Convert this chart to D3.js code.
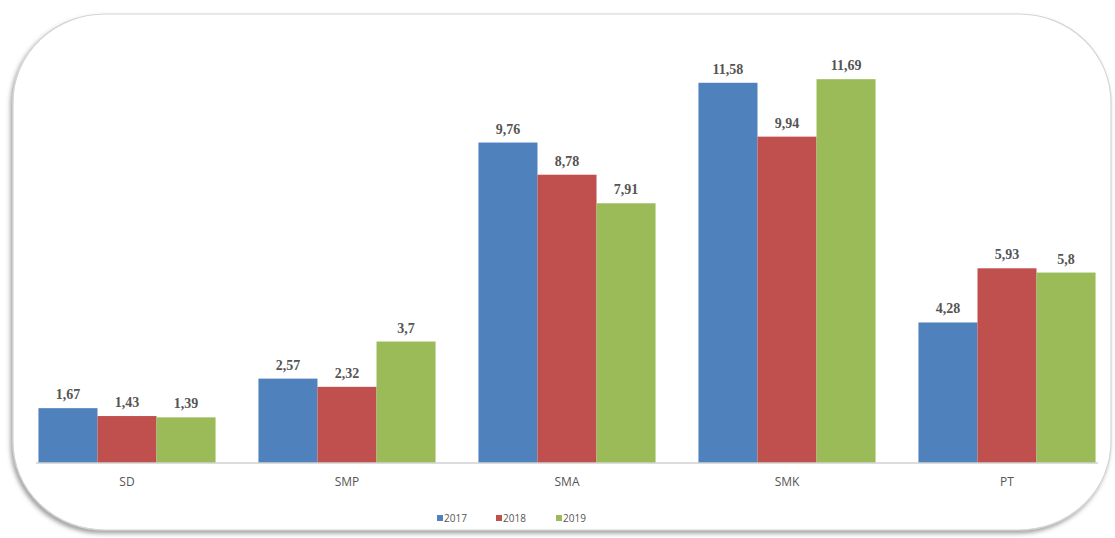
<!DOCTYPE html>
<html>
<head>
<meta charset="utf-8">
<script src="https://cdn.jsdelivr.net/npm/d3@7"></script>
<style>
  body { margin: 0; background: #fff; }
  svg { display: block; }
</style>
</head>
<body>
<svg id="chart"></svg>
<script>
const categories = ["SD", "SMP", "SMA", "SMK", "PT"]
const years = ["2017", "2018", "2019"]
const values2017 = [1.67, 2.57, 9.76, 11.58, 4.28]
const values2018 = [1.43, 2.32, 8.78, 9.94, 5.93]
const values2019 = [1.39, 3.7, 7.91, 11.69, 5.8]
const colors = ["#4f81bd", "#c0504d", "#9bbb59"]

const series = [values2017, values2018, values2019]
const data = categories.map((c, i) => ({
    cat: c,
    vals: years.map((y, j) => ({ year: y, v: series[j][i], j: j }))
}))

const w = 1115
const h = 538
const baseY = 463

const svg = d3.select("#chart")
    .attr("width", w)
    .attr("height", h)

// soft shadow for the rounded frame
const defs = svg.append("defs")
const f = defs.append("filter").attr("id", "shadow")
    .attr("x", "-5%").attr("y", "-5%").attr("width", "110%").attr("height", "115%")
f.append("feDropShadow")
    .attr("dx", -2).attr("dy", 3)
    .attr("stdDeviation", 2)
    .attr("flood-color", "#555")
    .attr("flood-opacity", 0.55)

svg.append("rect")
    .attr("x", 13).attr("y", 14)
    .attr("width", 1098).attr("height", 516)
    .attr("rx", 92).attr("ry", 88)
    .attr("fill", "#fff")
    .attr("stroke", "#d4d4d4")
    .attr("stroke-width", 1.2)
    .attr("filter", "url(#shadow)")

const x0 = d3.scaleBand()
    .domain(categories)
    .range([17, 1117])
    .paddingInner(0.195)
    .paddingOuter(0.0975)

const x1 = d3.scaleBand()
    .domain(years)
    .range([0, x0.bandwidth()])

const y = d3.scaleLinear()
    .domain([0, 12])
    .range([baseY, 69])

const groups = svg.selectAll(".grp")
    .data(data)
    .join("g")
    .attr("class", "grp")
    .attr("transform", d => "translate(" + x0(d.cat) + ",0)")

groups.selectAll("rect")
    .data(d => d.vals)
    .join("rect")
    .attr("x", d => x1(d.year))
    .attr("y", d => y(d.v))
    .attr("width", x1.bandwidth())
    .attr("height", d => baseY - y(d.v))
    .attr("fill", d => colors[d.j])

groups.selectAll("text")
    .data(d => d.vals)
    .join("text")
    .attr("x", d => x1(d.year) + x1.bandwidth() / 2)
    .attr("y", d => y(d.v) - 9)
    .attr("text-anchor", "middle")
    .style("font-family", "'Liberation Serif', serif")
    .style("font-size", "14px")
    .style("font-weight", "bold")
    .style("fill", "#555")
    .text(d => String(d.v).replace(".", ","))

// x axis
const xAxis = d3.axisBottom(x0).tickSize(0).tickPadding(14)
const ax = svg.append("g")
    .attr("transform", "translate(0," + baseY + ")")
    .call(xAxis)
ax.select(".domain").remove()
ax.append("line")
    .attr("x1", 36).attr("x2", 1098)
    .attr("stroke", "#d0d0d0")
    .attr("stroke-width", 1.5)
ax.selectAll("text")
    .style("font-family", "'Open Sans', sans-serif")
    .style("font-size", "12px")
    .style("fill", "#555")

// legend
const legendX = [437, 496, 556]
const lg = svg.selectAll(".lg")
    .data(years)
    .join("g")
    .attr("class", "lg")
    .attr("transform", (d, i) => "translate(" + legendX[i] + ",519)")
lg.append("rect")
    .attr("x", 0).attr("y", -4)
    .attr("width", 6).attr("height", 6)
    .attr("fill", (d, i) => colors[i])
lg.append("text")
    .attr("x", 7).attr("y", 3)
    .style("font-family", "'Open Sans', sans-serif")
    .style("font-size", "10px")
    .style("fill", "#555")
    .text(d => d)
</script>
</body>
</html>
